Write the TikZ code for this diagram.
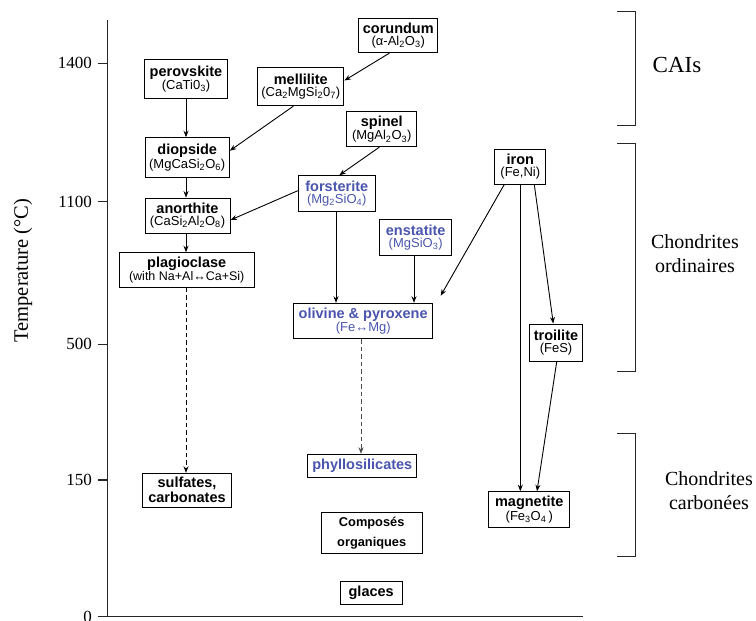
\documentclass[tikz,border=0pt]{standalone}
\usepackage{fontspec}
\setmainfont{Liberation Serif}
\setsansfont{Liberation Sans}
\usetikzlibrary{arrows.meta}
\definecolor{minblue}{HTML}{4A55AE}
\newcommand{\tb}[1]{{\fontsize{14.5}{16}\selectfont\bfseries #1}}
\newcommand{\tr}[1]{{\fontsize{13}{16}\selectfont #1}}
\newcommand{\sub}[1]{\textsubscript{#1}}
\tikzset{
  box/.style={draw, line width=1pt, inner sep=0pt, align=center, font=\sffamily},
  bluebox/.style={box, text=minblue},
  arr/.style={-{Stealth[length=6.5pt,width=5pt]}, line width=0.9pt},
  darr/.style={arr, line width=1pt, dash pattern=on 4.5pt off 3pt},
  axis/.style={line width=1.1pt, draw=black!85},
  brk/.style={line width=1pt, draw=black!85},
  tick/.style={font=\fontsize{17}{17}\selectfont, anchor=east, inner sep=0pt},
  grp/.style={font=\fontsize{20}{24}\selectfont, align=center, inner sep=0pt}
}
\begin{document}
\begin{tikzpicture}[x=1pt, y=-1pt]
\useasboundingbox (0,0) rectangle (756,621);
% axes
\coordinate (ytop) at (107.3,20);
\coordinate (orig) at (107.3,616.7);
\coordinate (xend) at (582.7,616.7);
\draw[axis] (ytop) -- (orig) -- (xend);
\foreach \yy/\lab in {63.3/1400, 201.7/1100, 344.3/500, 480/150, 616.7/0}{
  \draw[axis] (98,\yy) -- (107.3,\yy);
  \node[tick] at (92,\yy) {\lab};
}
\node[rotate=90, font=\fontsize{20.5}{20}\selectfont, inner sep=0pt] (ylab) at (23,270.5) {Temperature (°C)};
% nodes
\node[box, minimum width=79.3, minimum height=34.4] (corundum) at (398.3,35.5) {\tb{corundum}\\\tr{(α-Al\sub{2}O\sub{3})}};
\node[box, minimum width=83.7, minimum height=39.4] (perovskite) at (186,79) {\tb{perovskite}\\\tr{(CaTi0\sub{3})}};
\node[box, minimum width=86.3, minimum height=38.4] (mellilite) at (300.8,86.5) {\tb{mellilite}\\\tr{(Ca\sub{2}MgSi\sub{2}0\sub{7})}};
\node[box, minimum width=70.3, minimum height=35] (spinel) at (381.8,129.2) {\tb{spinel}\\\tr{(MgAl\sub{2}O\sub{3})}};
\node[box, minimum width=84.3, minimum height=40] (diopside) at (187.2,157.7) {\tb{diopside}\\\tr{(MgCaSi\sub{2}O\sub{6})}};
\node[box, minimum width=50.7, minimum height=35] (iron) at (520.3,166.5) {\tb{iron}\\\tr{(Fe,Ni)}};
\node[bluebox, minimum width=77, minimum height=35.6] (forsterite) at (336.8,193.5) {\tb{forsterite}\\\tr{(Mg\sub{2}SiO\sub{4})}};
\node[box, minimum width=85, minimum height=35.3] (anorthite) at (187.5,215.7) {\tb{anorthite}\\\tr{(CaSi\sub{2}Al\sub{2}O\sub{8})}};
\node[bluebox, minimum width=72, minimum height=35.7] (enstatite) at (415.7,237.2) {\tb{enstatite}\\\tr{(MgSiO\sub{3})}};
\node[box, minimum width=135.3, minimum height=34.6] (plagioclase) at (186.7,270) {\tb{plagioclase}\\{\fontsize{12.5}{16}\selectfont (with Na+Al↔Ca+Si)}};
\node[bluebox, minimum width=139, minimum height=35.4] (olivine) at (363.2,321) {\tb{olivine \& pyroxene}\\\tr{(Fe↔Mg)}};
\node[box, minimum width=53.4, minimum height=37.3] (troilite) at (556,342.7) {\tb{troilite}\\\tr{(FeS)}};
\node[bluebox, minimum width=109.3, minimum height=23] (phyllo) at (362.3,465.8) {\tb{phyllosilicates}};
\node[box, minimum width=89.4, minimum height=34, font=\sffamily\fontsize{14.5}{15}\selectfont\bfseries] (sulfates) at (187,490.3) {sulfates,\\carbonates};
\node[box, minimum width=80.7, minimum height=35.6] (magnetite) at (529.3,509.5) {\tb{magnetite}\\\tr{(Fe\sub{3}O\sub{4}\,)}};
\node[box, minimum width=100.7, minimum height=41.3, font=\sffamily\fontsize{12.8}{19.5}\selectfont\bfseries] (composes) at (371.7,533.3) {Composés\\organiques};
\node[box, minimum width=61.7, minimum height=22.6] (glaces) at (371.2,593) {\tb{glaces}};
% connectors
\coordinate (ironend) at (440.7,295.7);
\draw[arr] ([xshift=-9pt]corundum.south) -- ([yshift=6pt]mellilite.east);
\draw[arr] ([xshift=-7.5pt]mellilite.south) -- ([yshift=7pt]diopside.east);
\draw[arr] (perovskite.south) -- (perovskite.south |- diopside.north);
\draw[arr] (perovskite.south |- diopside.south) -- (perovskite.south |- anorthite.north);
\draw[arr] (perovskite.south |- anorthite.south) -- (perovskite.south |- plagioclase.north);
\draw[darr] (perovskite.south |- plagioclase.south) -- (perovskite.south |- sulfates.north);
\draw[arr] ([xshift=-2.5pt]spinel.south) -- ([xshift=2.5pt]forsterite.north);
\draw[arr] ([yshift=2.8pt]forsterite.west) -- ([yshift=-4.3pt]anorthite.east);
\draw[arr] ([xshift=-0.8pt]forsterite.south) -- ([xshift=-0.8pt]forsterite.south |- olivine.north);
\draw[arr] ([xshift=-1.7pt]enstatite.south) -- ([xshift=-1.7pt]enstatite.south |- olivine.north);
\draw[darr, draw=black!70] ([xshift=-2.2pt]olivine.south) -- ([xshift=-2.2pt]olivine.south |- phyllo.north);
\draw[arr] ([xshift=-16pt]iron.south) -- (ironend);
\draw[arr] (iron.south) -- (iron.south |- magnetite.north);
\draw[arr] ([xshift=14pt]iron.south) -- ([xshift=-2.7pt]troilite.north);
\draw[arr] ([xshift=0.7pt]troilite.south) -- ([xshift=7.7pt]magnetite.north);
% brackets
\draw[brk] (617.3,11) -- (635.3,11) -- (635.3,125.7) -- (617.3,125.7);
\draw[brk] (617.3,143.3) -- (635.3,143.3) -- (635.3,371.7) -- (617.3,371.7);
\draw[brk] (617.3,433.3) -- (635.3,433.3) -- (635.3,556.7) -- (617.3,556.7);
\node[grp, font=\fontsize{23}{24}\selectfont] (cais) at (677,65) {CAIs};
\node[grp] (ordinaires) at (695,254) {Chondrites\\ordinaires};
\node[grp] (carbonees) at (709,491) {Chondrites\\carbonées};
\end{tikzpicture}
\end{document}
